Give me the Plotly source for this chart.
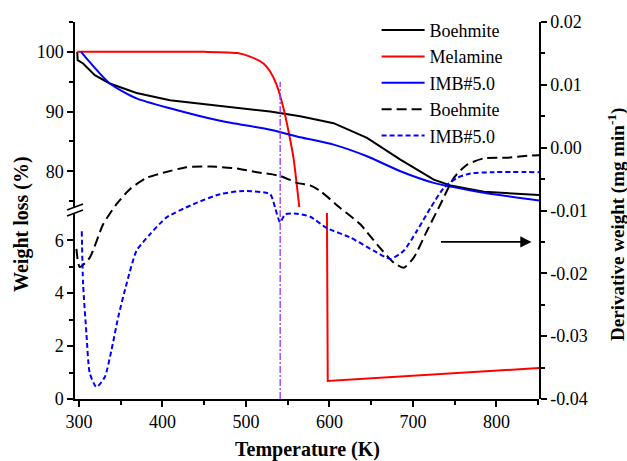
import plotly.graph_objects as go

# ---------------- data ----------------
# TG curves (weight loss %, upper broken segment)
T_boeh_tg = [298, 298.5, 305, 319, 337, 369, 409, 469, 529, 565, 605, 645, 685, 725, 745, 785, 851]
W_boeh_tg = [100, 98.6, 98.05, 96.1, 94.7, 93.1, 91.9, 90.95, 90.0, 89.2, 88.05, 85.6, 81.95, 78.6, 77.6, 76.55, 76.0]

T_mel_tg = [298, 350, 400, 450, 490, 505, 521, 529, 537, 545, 551, 557, 564]
W_mel_tg = [100, 100, 100, 100, 99.8, 99.2, 98.05, 96.7, 94.4, 90.55, 86.7, 82.2, 73.9]

# Melamine residue (lower broken segment)
T_mel_low = [597, 598, 851]
W_mel_low = [7.3, 0.68, 1.17]

T_imb_tg = [302.5, 337, 369, 409, 469, 529, 565, 605, 645, 685, 725, 785, 851]
W_imb_tg = [100, 94.7, 92.2, 90.55, 88.45, 86.95, 85.7, 84.45, 82.5, 80.0, 78.05, 76.4, 75.1]

# DTG curves (derivative weight, mg/min)
T_boeh_dtg = [297, 301, 313, 329, 345, 361, 381, 401, 429, 457, 489, 513, 541, 561, 577, 589,
              613, 637, 657, 677, 689, 701, 717, 733, 749, 765, 785, 813, 837, 851]
D_boeh_dtg = [-0.0161, -0.0190, -0.0175, -0.0122, -0.0090, -0.0066, -0.0048, -0.0040, -0.0031,
              -0.0030, -0.0033, -0.0039, -0.0045, -0.0056, -0.0060, -0.0069, -0.0096, -0.0122,
              -0.0154, -0.0183, -0.0191, -0.0175, -0.0132, -0.0090, -0.0048, -0.0027, -0.0017,
              -0.0016, -0.0013, -0.0012]

T_imb_dtg = [303.4, 305, 309, 313, 321, 331, 339, 347, 357, 369, 385, 405, 437, 469, 497, 529,
             535, 541, 547, 561, 577, 597, 625, 653, 673, 689, 705, 721, 737, 753, 769, 797, 851]
D_imb_dtg = [-0.0133, -0.0217, -0.0296, -0.0359, -0.0381, -0.0365, -0.0322, -0.0270, -0.0217,
             -0.0164, -0.0138, -0.0111, -0.0090, -0.0074, -0.0069, -0.0074, -0.0096, -0.0119,
             -0.0106, -0.0105, -0.0110, -0.0128, -0.0143, -0.0164, -0.0177, -0.0164, -0.0132,
             -0.0096, -0.0064, -0.0048, -0.0041, -0.0039, -0.0039]

# reference marker line
T_marker = [541, 541]
D_marker = [-0.04, 0.0105]

# ticks
x_ticks = [300, 400, 500, 600, 700, 800]
x_minor = [350, 450, 550, 650, 750, 850]
y_low_ticks = [0, 2, 4, 6]
y_low_minor = [1, 3, 5]
y_up_ticks = [80, 90, 100]
y_up_minor = [75, 85, 95, 105]
d_ticks = [-0.04, -0.03, -0.02, -0.01, 0.00, 0.01, 0.02]
d_ticktext = ["-0.04", "-0.03", "-0.02", "-0.01", "0.00", "0.01", "0.02"]
d_minor = [-0.035, -0.025, -0.015, -0.005, 0.005, 0.015]

FONT = "Liberation Serif"

fig = go.Figure()
fig.add_trace(go.Scatter(x=T_boeh_tg, y=W_boeh_tg, xaxis="x", yaxis="y2", mode="lines",
                         name="Boehmite", line=dict(color="#000000", width=2)))
fig.add_trace(go.Scatter(x=T_mel_tg, y=W_mel_tg, xaxis="x", yaxis="y2", mode="lines",
                         name="Melamine", line=dict(color="#ff0000", width=2, shape="spline", smoothing=0.6),
                         legendgroup="mel"))
fig.add_trace(go.Scatter(x=T_imb_tg, y=W_imb_tg, xaxis="x", yaxis="y2", mode="lines",
                         name="IMB#5.0", line=dict(color="#0000ff", width=2, shape="spline", smoothing=0.6)))
fig.add_trace(go.Scatter(x=T_mel_low, y=W_mel_low, xaxis="x", yaxis="y", mode="lines",
                         name="Melamine", showlegend=False, legendgroup="mel",
                         line=dict(color="#ff0000", width=2)))
fig.add_trace(go.Scatter(x=T_boeh_dtg, y=D_boeh_dtg, xaxis="x", yaxis="y3", mode="lines",
                         name="Boehmite", line=dict(color="#000000", width=2, dash="10px,5px",
                                                     shape="spline", smoothing=0.6)))
fig.add_trace(go.Scatter(x=T_imb_dtg, y=D_imb_dtg, xaxis="x", yaxis="y3", mode="lines",
                         name="IMB#5.0", line=dict(color="#0000ff", width=2, dash="5px,3px",
                                                    shape="spline", smoothing=0.6)))
fig.add_trace(go.Scatter(x=T_marker, y=D_marker, xaxis="x", yaxis="y3", mode="lines",
                         showlegend=False, line=dict(color="#9b30ff", width=1.3, dash="7px,2px,2px,2px")))

axis_common = dict(showline=True, linecolor="black", linewidth=1.5, showgrid=False, zeroline=False,
                   tickcolor="black", tickwidth=1.5, tickfont=dict(family=FONT, size=18, color="black"))

xr = [295.3, 851]
fig.update_layout(
    width=627, height=461,
    margin=dict(l=75, r=88, t=20, b=62),
    paper_bgcolor="white", plot_bgcolor="rgba(0,0,0,0)",
    font=dict(family=FONT, size=18, color="black"),
    xaxis=dict(domain=[0, 1], range=xr, anchor="y", tickvals=x_ticks, ticks="outside", ticklen=6,
               minor=dict(tickvals=x_minor, ticks="outside", ticklen=4, tickwidth=1.5, tickcolor="black"),
               **axis_common),
    xaxis2=dict(overlaying="x", side="top", anchor="y2", range=xr, tickvals=x_ticks, ticks="inside",
                ticklen=6, showticklabels=False,
                minor=dict(tickvals=x_minor, ticks="inside", ticklen=4, tickwidth=1.5, tickcolor="black"),
                **axis_common),
    yaxis=dict(domain=[0, 0.4934], range=[0, 7.03], anchor="x", tickvals=y_low_ticks, ticks="outside",
               ticklen=6, minor=dict(tickvals=y_low_minor, ticks="outside", ticklen=4, tickwidth=1.5,
                                     tickcolor="black"),
               **axis_common),
    yaxis2=dict(domain=[0.5092, 1], range=[74.0, 105], anchor="x", tickvals=y_up_ticks, ticks="outside",
                ticklen=6, minor=dict(tickvals=y_up_minor, ticks="outside", ticklen=4, tickwidth=1.5,
                                      tickcolor="black"),
                **axis_common),
    yaxis3=dict(domain=[0, 1], range=[-0.04, 0.02], anchor="x", side="right", tickvals=d_ticks,
                ticktext=d_ticktext, ticks="outside", ticklen=6,
                minor=dict(tickvals=d_minor, ticks="outside", ticklen=4, tickwidth=1.5, tickcolor="black"),
                **axis_common),
    legend=dict(x=0.650, y=1.027, xanchor="left", yanchor="top", bgcolor="rgba(0,0,0,0)",
                font=dict(family=FONT, size=18, color="black"), tracegroupgap=0, itemwidth=43),
    showlegend=True,
)

# axis break marks on the left axis (paper coords)
for y0 in [(399 - 209) / 379, (399 - 215) / 379]:
    fig.add_shape(type="line", xref="paper", yref="paper",
                  x0=(67 - 75) / 464, x1=(83 - 75) / 464, y0=y0, y1=y0 + 6 / 379,
                  line=dict(color="black", width=1.5))

# arrow pointing to the right axis
fig.add_annotation(x=842, y=-0.015, xref="x", yref="y3", ax=-92, ay=0, text="", showarrow=True,
                   arrowhead=2, arrowsize=1.4, arrowwidth=1.6, arrowcolor="black")

# axis titles
fig.add_annotation(text="<b>Temperature (K)</b>", xref="paper", yref="paper", x=0.5, y=(399 - 450) / 379,
                   showarrow=False, font=dict(family=FONT, size=20, color="black"),
                   xanchor="center", yanchor="middle")
fig.add_annotation(text="<b>Weight loss (%)</b>", xref="paper", yref="paper", x=(22 - 75) / 464,
                   y=(399 - 223) / 379, showarrow=False, textangle=-90,
                   font=dict(family=FONT, size=20, color="black"), xanchor="center", yanchor="middle")
fig.add_annotation(text="<b>Derivative weight (mg min<sup>-1</sup>)</b>", xref="paper", yref="paper",
                   x=(617 - 75) / 464, y=(399 - 224) / 379, showarrow=False, textangle=-90,
                   font=dict(family=FONT, size=19, color="black"), xanchor="center", yanchor="middle")

fig.write_html("out.html")
